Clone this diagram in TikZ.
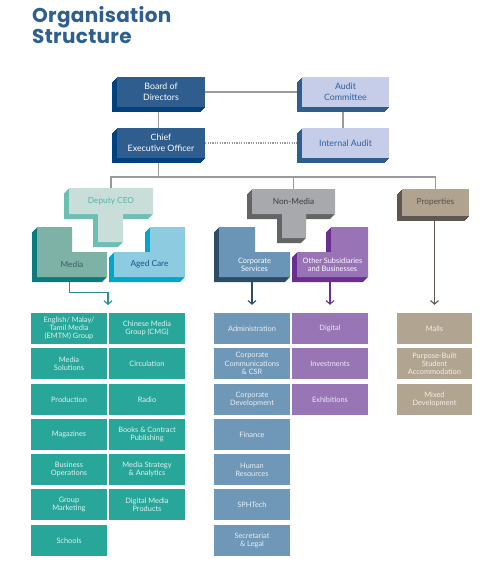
\documentclass[tikz,border=0pt]{standalone}
\usepackage{fontspec}
\setmainfont{Lato}
\newfontfamily\titlefont{Poppins}[LetterSpace=1.5]
\usetikzlibrary{arrows.meta}
\pgfdeclarelayer{bg}
\pgfdeclarelayer{paper}
\pgfsetlayers{paper,bg,main}
\definecolor{titleblue}{HTML}{2F5F8F}
\definecolor{bodF}{HTML}{2F5D8E}
\definecolor{bodS}{HTML}{00427F}
\definecolor{audF}{HTML}{C5CDE9}
\definecolor{audS}{HTML}{2F5D8E}
\definecolor{audT}{HTML}{2E62A0}
\definecolor{depF}{HTML}{C9DDD9}
\definecolor{depS}{HTML}{6BBFB3}
\definecolor{depT}{HTML}{4FB6AB}
\definecolor{medF}{HTML}{7FB2A6}
\definecolor{medS}{HTML}{0B7B7D}
\definecolor{medT}{HTML}{3D5A66}
\definecolor{agedF}{HTML}{8CCBE0}
\definecolor{agedS}{HTML}{00A6C8}
\definecolor{agedT}{HTML}{1F4E8C}
\definecolor{nmF}{HTML}{A7A9AC}
\definecolor{nmS}{HTML}{636466}
\definecolor{nmT}{HTML}{3C3C3C}
\definecolor{csF}{HTML}{6B95B6}
\definecolor{csS}{HTML}{2C4D66}
\definecolor{osF}{HTML}{9873B5}
\definecolor{osS}{HTML}{6D2E92}
\definecolor{prF}{HTML}{B0A38F}
\definecolor{prS}{HTML}{5E5650}
\definecolor{prT}{HTML}{555049}
\definecolor{gTeal}{HTML}{29A69A}
\definecolor{gCorp}{HTML}{6F97B7}
\definecolor{gPurp}{HTML}{9875B5}
\definecolor{gProp}{HTML}{B1A591}
\definecolor{connGray}{HTML}{9A9A9A}
\definecolor{medA}{HTML}{2A8D8E}
\newcommand\xsolid[3]{%
  \foreach \s in {0.5,1.0,...,5.0}{\fill[#1,shift={(-\s,\s)}] #3;}
  \fill[#2] #3;
}
\begin{document}
\begin{tikzpicture}[x=1pt,y=-1pt,
  conn/.style={draw=connGray, line width=1.1pt},
  dotconn/.style={conn, dash pattern=on 1.1pt off 1.3pt},
  arr/.style={line width=1.1pt, -{Straight Barb[length=3.5pt,width=8pt,line width=1.1pt]}},
  lab/.style={inner sep=0, align=center},
  toplab/.style={lab, font=\fontsize{8.8}{11}\selectfont},
  midlab/.style={lab, font=\fontsize{8.3}{9}\selectfont},
  smalllab/.style={lab, font=\fontsize{7.4}{7.8}\selectfont},
  gbox/.style={minimum width=76pt, minimum height=31pt, inner sep=0, align=center, font=\fontsize{7.4}{8.2}\selectfont},
  gm/.style={gbox, fill=gTeal, text=white!85!gTeal},
  gc/.style={gbox, fill=gCorp, text=white!85!gCorp},
  go/.style={gbox, fill=gPurp, text=white!85!gPurp},
  gp/.style={gbox, fill=gProp, minimum width=75pt, text=white!82!gProp},
  ttl/.style={anchor=base west, inner sep=0, text=titleblue, font=\titlefont\bfseries\fontsize{20}{21}\selectfont}
]
\begin{pgfonlayer}{paper}
\fill[white] (0,0) rectangle (497,568);
\end{pgfonlayer}
\useasboundingbox (0,0) rectangle (497,568);

% title
\node[ttl] (t1) at (32,22) {Organisation};
\node[ttl] (t2) at (32,43) {Structure};

% top boxes
\xsolid{bodS}{bodF}{(117,77) rectangle (205,107)}
\xsolid{audS}{audF}{(302,77) rectangle (389,107)}
\xsolid{bodS}{bodF}{(117,128) rectangle (205,158)}
\xsolid{audS}{audF}{(302,128) rectangle (389,158)}
\node[toplab, text=white, minimum width=88pt, minimum height=30pt] (bod) at (161,92) {Board of\\Directors};
\node[toplab, text=audT, minimum width=87pt, minimum height=30pt] (aud) at (345.5,92) {Audit\\Committee};
\node[toplab, text=white, minimum width=88pt, minimum height=30pt] (ceo) at (161,143) {Chief\\Executive Officer};
\node[toplab, text=audT, minimum width=87pt, minimum height=30pt] (ia) at (345.5,143) {Internal Audit};

% Deputy CEO group
\xsolid{depS}{depF}{(69,188) -- (153,188) -- (153,214) -- (123,214) -- (123,242) -- (98,242) -- (98,214) -- (69,214) -- cycle}
\xsolid{medS}{medF}{(37,227) -- (72,227) -- (72,252) -- (107,252) -- (107,277) -- (37,277) -- cycle}
\xsolid{agedS}{agedF}{(150,227) -- (185,227) -- (185,277) -- (114,277) -- (114,252) -- (150,252) -- cycle}
\node[midlab, text=depT, minimum width=84pt, minimum height=26pt] (dep) at (111,201) {Deputy CEO};
\node[midlab, text=medT, minimum width=70pt, minimum height=25pt] (media) at (72,264.5) {Media};
\node[midlab, text=agedT, minimum width=71pt, minimum height=25pt] (aged) at (149.5,264.5) {Aged Care};

% Non-Media group
\xsolid{nmS}{nmF}{(252,189) -- (335,189) -- (335,214) -- (306,214) -- (306,238) -- (282,238) -- (282,214) -- (252,214) -- cycle}
\xsolid{csS}{csF}{(219,227) -- (255,227) -- (255,252) -- (290,252) -- (290,277) -- (219,277) -- cycle}
\xsolid{osS}{osF}{(331,227) -- (368,227) -- (368,277) -- (297,277) -- (297,252) -- (331,252) -- cycle}
\node[midlab, text=nmT, minimum width=83pt, minimum height=25pt] (nm) at (293.5,201.5) {Non-Media};
\node[smalllab, text=white, minimum width=71pt, minimum height=25pt] (cs) at (254.5,264.5) {Corporate\\Services};
\node[smalllab, text=white, minimum width=71pt, minimum height=25pt] (os) at (332.5,264.5) {Other Subsidiaries\\and Businesses};

% Properties
\xsolid{prS}{prF}{(402,189) rectangle (469,216)}
\node[midlab, text=prT, minimum width=67pt, minimum height=27pt] (prop) at (435.5,202.5) {Properties};

% grid: Media
\node[gm] (emtm) at (69,328.5) {English/ Malay/\\Tamil Media\\(EMTM) Group};
\node[gm] (msol) at (69,363.5) {Media\\Solutions};
\node[gm] (prod) at (69,399.5) {Production};
\node[gm] (mags) at (69,434.5) {Magazines};
\node[gm] (bops) at (69,469.5) {Business\\Operations};
\node[gm] (gmkt) at (69,504.5) {Group\\Marketing};
\node[gm] (schl) at (69,540.5) {Schools};
\node[gm] (cmg) at (147,328.5) {Chinese Media\\Group (CMG)};
\node[gm] (circ) at (147,363.5) {Circulation};
\node[gm] (radio) at (147,399.5) {Radio};
\node[gm] (books) at (147,434.5) {Books \& Contract\\Publishing};
\node[gm] (mstrat) at (147,469.5) {Media Strategy\\\& Analytics};
\node[gm] (dmp) at (147,504.5) {Digital Media\\Products};
% grid: Corporate Services
\node[gc] (adm) at (252,328.5) {Administration};
\node[gc] (ccsr) at (252,363.5) {Corporate\\Communications\\\& CSR};
\node[gc] (cdev) at (252,399.5) {Corporate\\Development};
\node[gc] (fin) at (252,434.5) {Finance};
\node[gc] (hr) at (252,469.5) {Human\\Resources};
\node[gc] (sphtech) at (252,504.5) {SPHTech};
\node[gc] (sec) at (252,540.5) {Secretariat\\\& Legal};
% grid: Other
\node[go] (dig) at (330,328.5) {Digital};
\node[go] (inv) at (330,363.5) {Investments};
\node[go] (exh) at (330,399.5) {Exhibitions};
% grid: Properties
\node[gp] (malls) at (434.5,328.5) {Malls};
\node[gp] (pbsa) at (434.5,363.5) {Purpose-Built\\Student\\Accommodation};
\node[gp] (mixed) at (434.5,399.5) {Mixed\\Development};

\coordinate (bus) at (158.5,177);
\coordinate (medtip) at (108,305);

\begin{pgfonlayer}{bg}
  \draw[conn] (bod.east) -- (aud.west);
  \draw[conn] ([xshift=-2.5pt]bod.south) -- ([xshift=-2.5pt]ceo.north);
  \draw[conn] ([xshift=-2.5pt]aud.south) -- ([xshift=-2.5pt]ia.north);
  \draw[dotconn] (ceo.east) -- (ia.west);
  \draw[conn] ([xshift=-2.5pt]ceo.south) -- (bus);
  \draw[conn] (dep.north) |- (bus) -| (prop.north);
  \draw[conn] (bus -| nm.north) -- (nm.north);
  \draw[arr, draw=medA] ([xshift=-2.5pt]media.south) -- ++(0,15) -| (medtip);
  \draw[arr, draw=csS, shorten >=8pt] ([xshift=-2.5pt]cs.south) -- (adm.north);
  \draw[arr, draw=osS, shorten >=8pt] ([xshift=-2.5pt]os.south) -- (dig.north);
  \draw[arr, draw=prS, shorten >=8pt] (prop.south -| malls.north) -- (malls.north);
\end{pgfonlayer}
\end{tikzpicture}
\end{document}
